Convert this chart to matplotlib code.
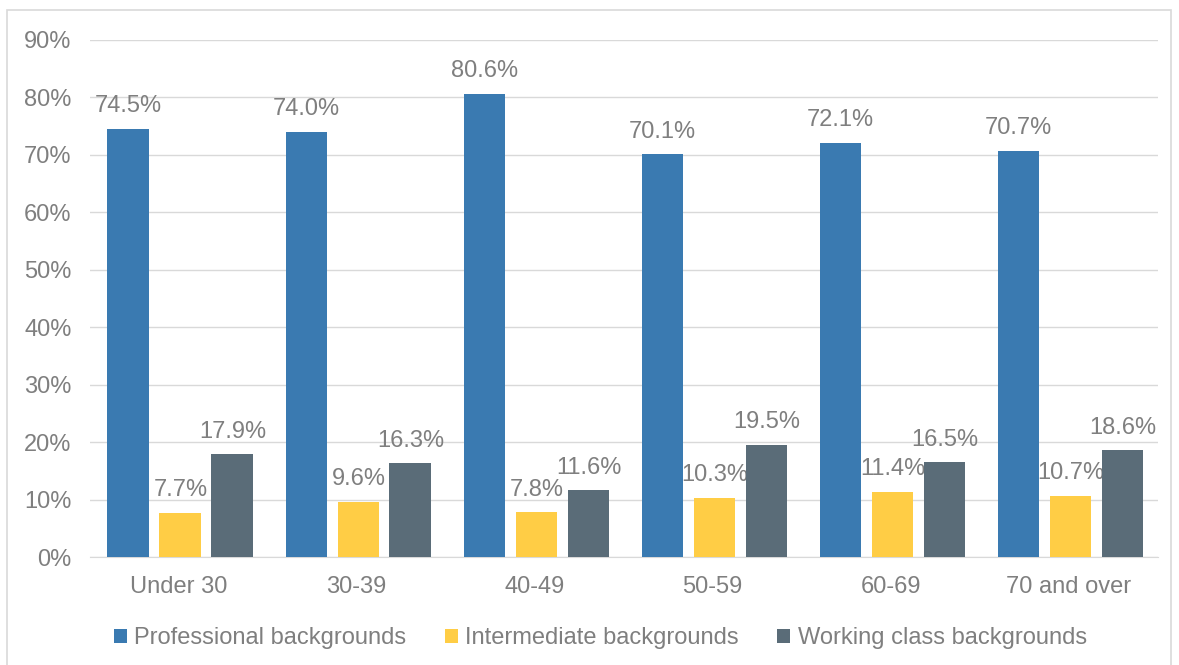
import matplotlib.pyplot as plt
import numpy as np
from matplotlib.patches import Rectangle

plt.rcParams['font.family'] = ['Liberation Sans', 'DejaVu Sans']

groups = ['Under 30', '30-39', '40-49', '50-59', '60-69', '70 and over']
series = ['Professional backgrounds', 'Intermediate backgrounds', 'Working class backgrounds']
professional = [74.5, 74.0, 80.6, 70.1, 72.1, 70.7]
intermediate = [7.7, 9.6, 7.8, 10.3, 11.4, 10.7]
working = [17.9, 16.3, 11.6, 19.5, 16.5, 18.6]
colors = ['#3a7ab1', '#ffcd45', '#5a6c78']
grey = '#7f7f7f'

fig = plt.figure(figsize=(11.79, 6.65), dpi=100)
ax = fig.add_axes([0.076, 0.1624, 0.906, 0.7776])

# outer chart border
fig.patches.append(Rectangle((0.006, -0.01), 0.987, 0.995, transform=fig.transFigure,
                             fill=False, edgecolor='#d9d9d9', lw=1.2))

x = np.arange(len(groups))
w = 0.235
step = 0.292
for i, (vals, name) in enumerate(zip([professional, intermediate, working], series)):
    pos = x + (i - 1) * step + 0.01
    bars = ax.bar(pos, vals, w, color=colors[i], label=name, zorder=3)
    for b, v in zip(bars, vals):
        ax.text(b.get_x() + b.get_width() / 2, v + 2.0, f'{v:.1f}%', ha='center', va='bottom',
                fontsize=17, color=grey)

ax.set_xlim(-0.5, len(groups) - 0.5)
ax.set_ylim(0, 90)
ax.set_yticks(range(0, 91, 10))
ax.set_yticklabels([f'{t}%' for t in range(0, 91, 10)])
ax.set_xticks(x)
ax.set_xticklabels(groups)
ax.tick_params(axis='both', length=0, labelsize=17, labelcolor=grey)
ax.tick_params(axis='x', pad=14)
ax.tick_params(axis='y', pad=13)
ax.grid(axis='y', color='#d9d9d9', lw=1, zorder=0)
for s in ['top', 'right', 'left']:
    ax.spines[s].set_visible(False)
ax.spines['bottom'].set_color('#d9d9d9')

ax.legend(loc='upper center', bbox_to_anchor=(0.478, -0.095), ncol=3, frameon=False,
          fontsize=17, labelcolor=grey, handlelength=0.55, handleheight=0.55,
          handletextpad=0.3, columnspacing=1.65)

fig.savefig('out.png', dpi=100)
